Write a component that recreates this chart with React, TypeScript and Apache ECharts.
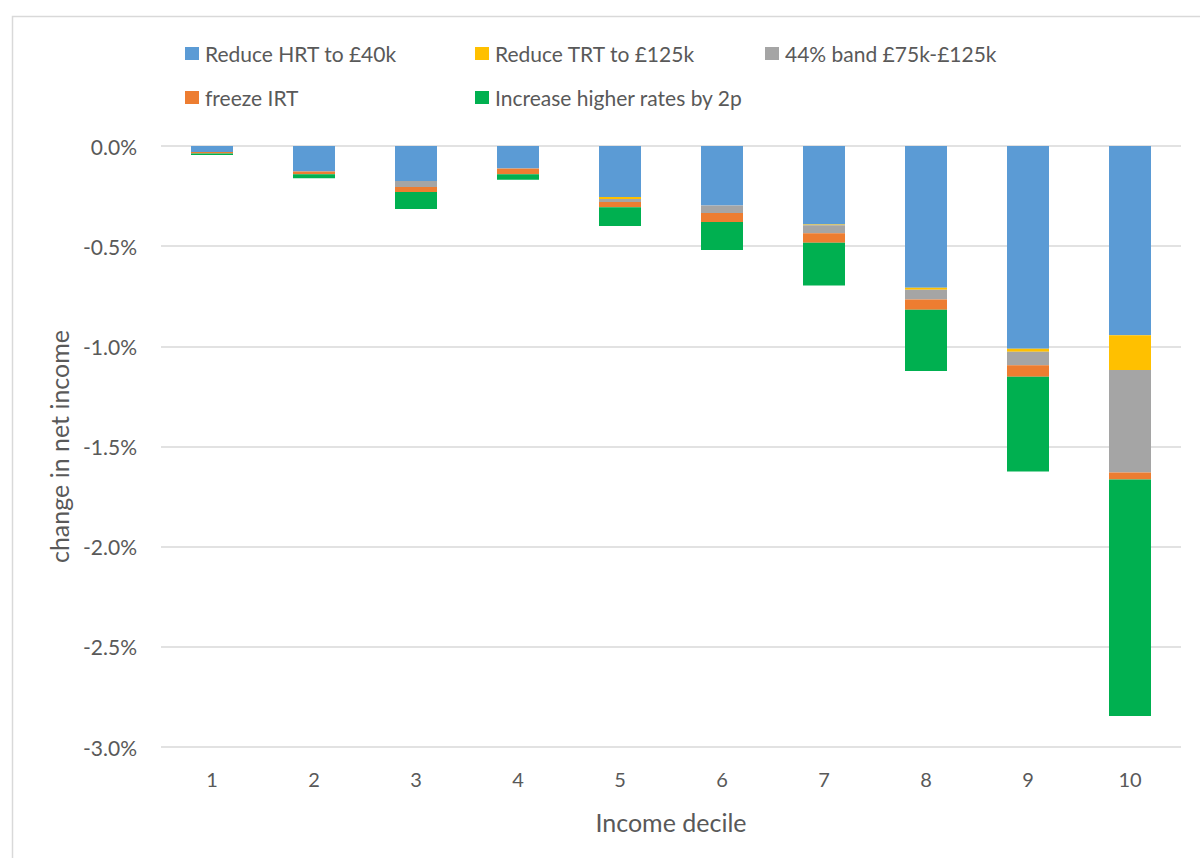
import React, { useEffect, useRef } from "react";
import * as echarts from "echarts";

const categories = ["1", "2", "3", "4", "5", "6", "7", "8", "9", "10"];
const seriesNames = [
  "Reduce HRT to £40k",
  "Reduce TRT to £125k",
  "44% band £75k-£125k",
  "freeze IRT",
  "Increase higher rates by 2p",
];
const reduceHRT = [-0.03, -0.127, -0.175, -0.11, -0.255, -0.297, -0.392, -0.708, -1.012, -0.945];
const reduceTRT = [0, 0, 0, 0, -0.01, 0, -0.004, -0.01, -0.015, -0.173];
const band44 = [0, 0, -0.03, -0.003, -0.014, -0.037, -0.04, -0.048, -0.067, -0.512];
const freezeIRT = [-0.008, -0.014, -0.025, -0.028, -0.027, -0.045, -0.047, -0.052, -0.058, -0.035];
const higher2p = [-0.007, -0.02, -0.085, -0.027, -0.093, -0.14, -0.213, -0.305, -0.473, -1.18];
const colors = ["#5B9BD5", "#FFC000", "#A5A5A5", "#ED7D31", "#00B050"];

const FONT = "Lato, 'Open Sans', sans-serif";
const TEXT = "#595959";

export default function App() {
  const ref = useRef<HTMLDivElement>(null);
  useEffect(() => {
    if (!ref.current) return;
    const chart = echarts.init(ref.current, undefined, { renderer: "svg" });
    const values = [reduceHRT, reduceTRT, band44, freezeIRT, higher2p];
    const legendPos = [
      { left: 180, top: 38 },
      { left: 470, top: 38 },
      { left: 760, top: 38 },
      { left: 180, top: 82 },
      { left: 470, top: 82 },
    ];
    const legends = seriesNames.map((name, i) => ({
      data: [name],
      left: legendPos[i].left,
      top: legendPos[i].top,
      itemWidth: 14,
      itemHeight: 13,
      itemGap: 0,
      icon: "rect",
      textStyle: { color: TEXT, fontSize: 21, fontFamily: FONT, padding: [0, 0, 0, 1] },
      selectedMode: false,
    }));
    chart.setOption({
      animation: false,
      color: colors,
      legend: legends,
      graphic: [
        {
          type: "rect",
          left: 10,
          top: 14,
          shape: { width: 1300, height: 900 },
          style: { fill: "none", stroke: "#D9D9D9", lineWidth: 1.5 },
          silent: true,
        },
      ],
      grid: { left: 161, right: 19, top: 146, bottom: 111, containLabel: false },
      xAxis: {
        type: "category",
        data: categories,
        axisLine: { show: false, onZero: false },
        axisTick: { show: false },
        axisLabel: { color: TEXT, fontSize: 20, fontFamily: FONT, margin: 22 },
        name: "Income decile",
        nameLocation: "middle",
        nameGap: 62,
        nameTextStyle: { color: TEXT, fontSize: 25, fontFamily: FONT },
      },
      yAxis: {
        type: "value",
        min: -3,
        max: 0,
        interval: 0.5,
        axisLine: { show: false },
        axisTick: { show: false },
        splitLine: { lineStyle: { color: "#D9D9D9", width: 1.5 } },
        axisLabel: {
          color: TEXT,
          fontSize: 21,
          fontFamily: FONT,
          margin: 24,
          formatter: (v: number) => v.toFixed(1) + "%",
        },
        name: "change in net income",
        nameLocation: "middle",
        nameGap: 90,
        nameTextStyle: { color: TEXT, fontSize: 25, fontFamily: FONT },
      },
      series: seriesNames.map((name, i) => ({
        name,
        type: "bar",
        stack: "total",
        data: values[i],
        barWidth: 42,
        itemStyle: { color: colors[i] },
      })),
    });
    return () => chart.dispose();
  }, []);
  return (
    <div
      ref={ref}
      style={{ position: "fixed", left: 0, top: 0, width: 1200, height: 858, background: "#fff" }}
    />
  );
}
